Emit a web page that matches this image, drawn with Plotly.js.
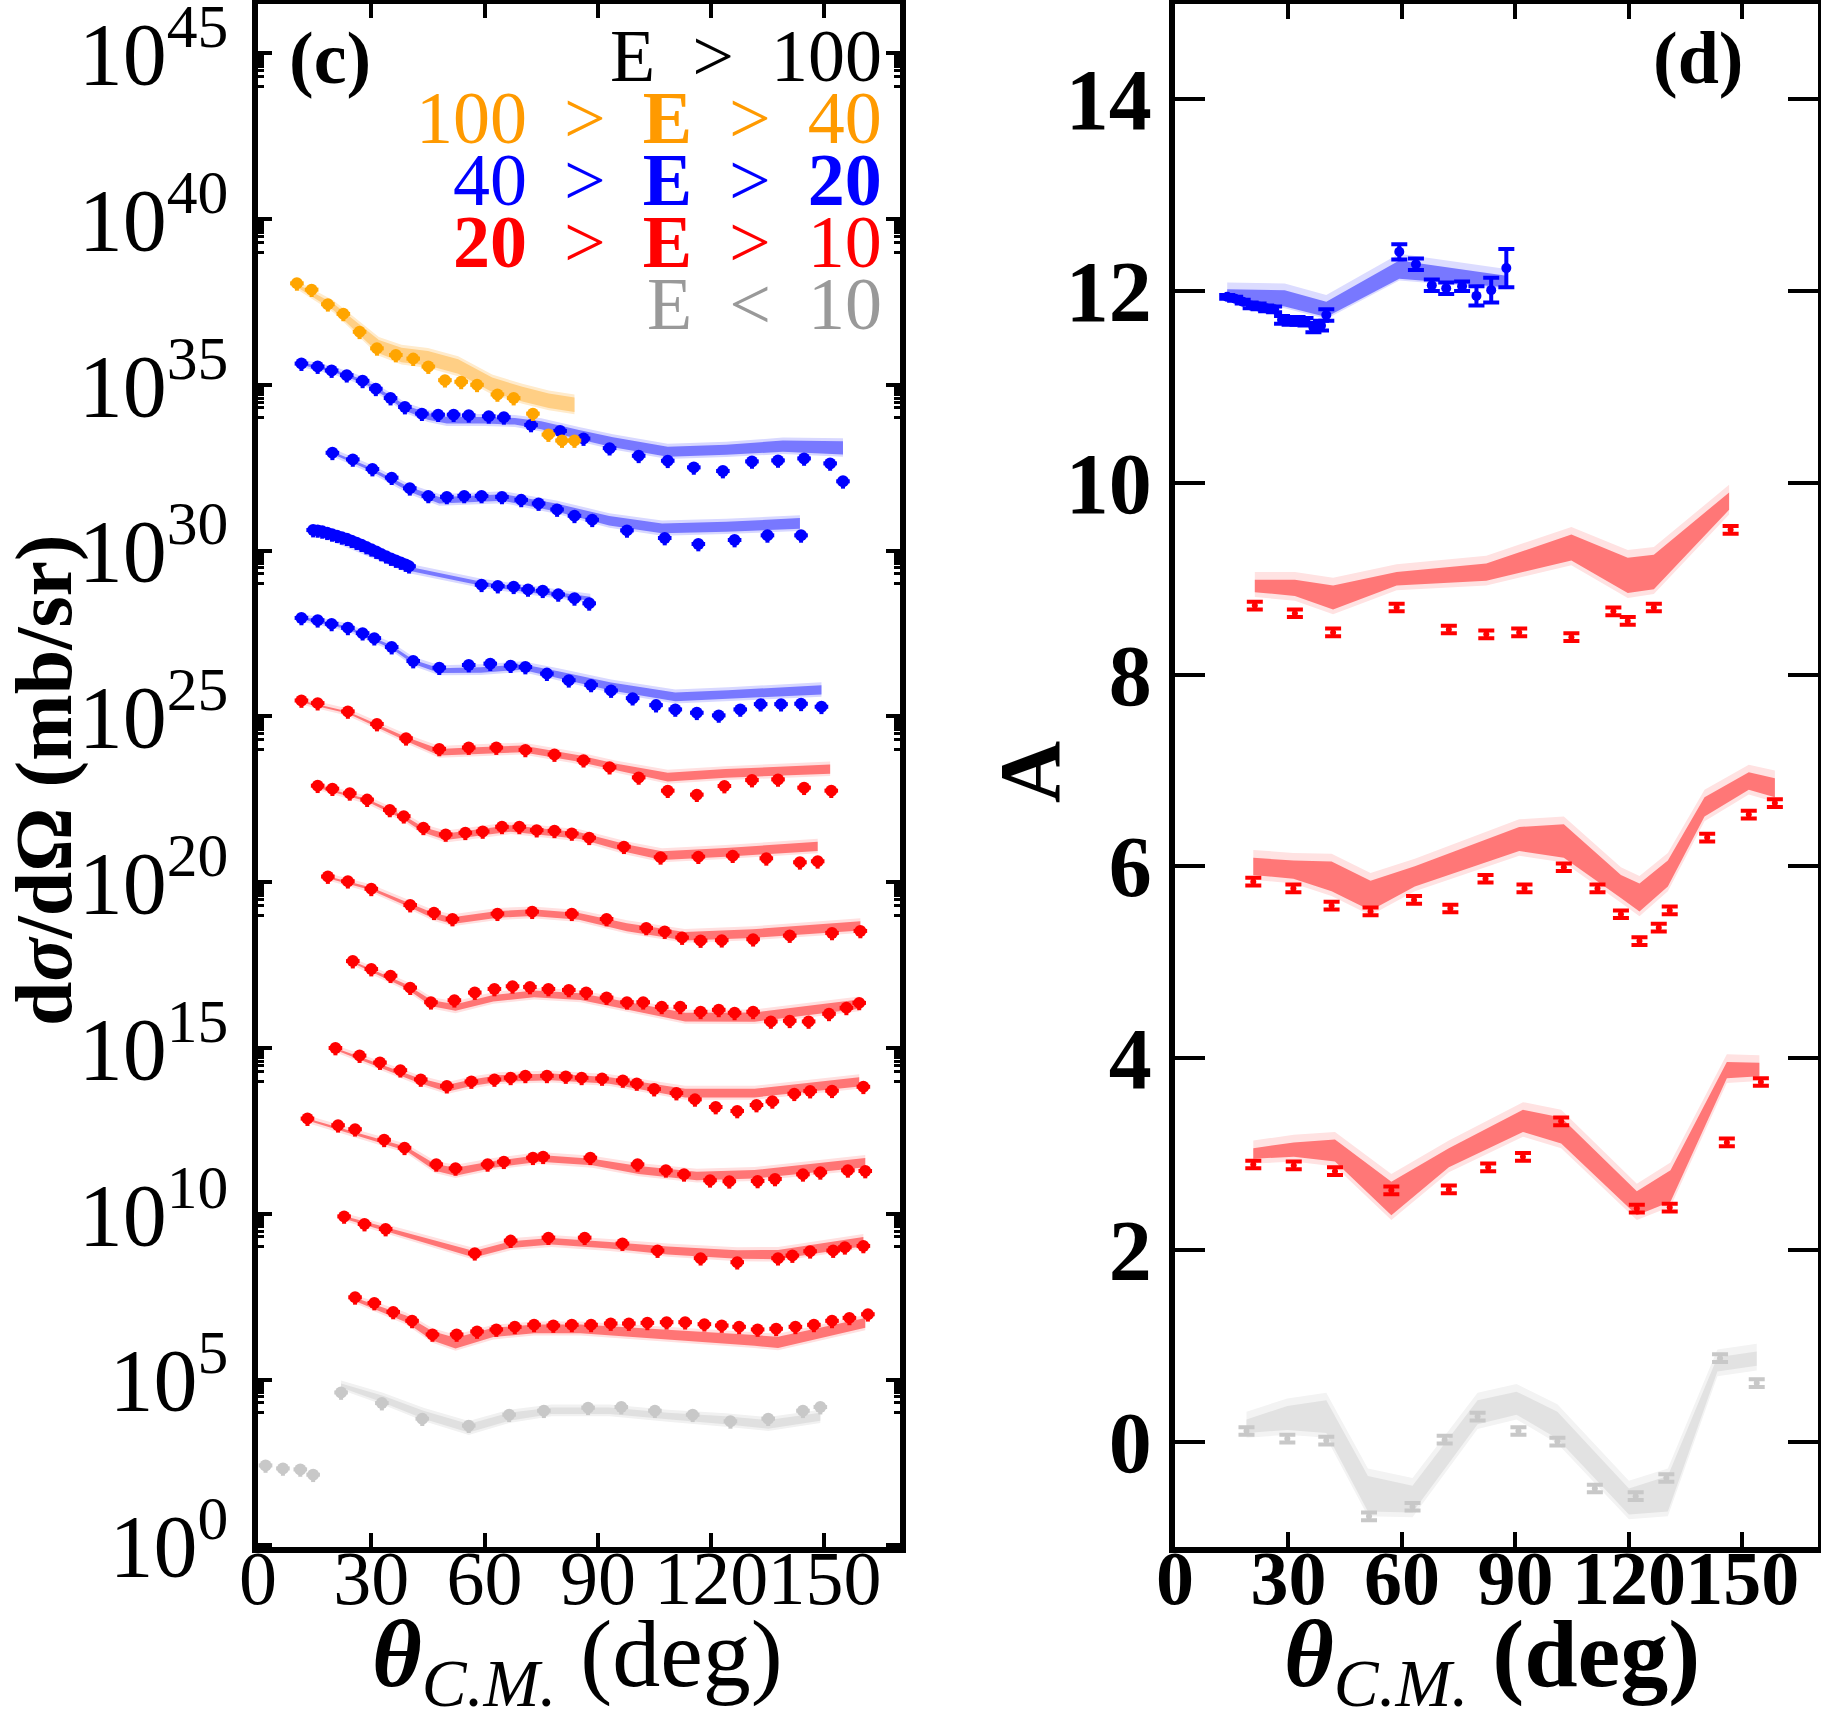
<!DOCTYPE html>
<html><head><meta charset="utf-8">
<script src="https://cdn.plot.ly/plotly-3.0.1.min.js"></script>
<style>body{margin:0;padding:0;background:#fff}</style>
</head><body><div id="plot" style="width:1821px;height:1714px"></div>
<script>
// ===== Panel (c): log10 of dσ/dΩ (offset curves), θ in deg =====
// Orange 100>E>40
const c1x=[10.3,14.2,18.5,22.6,26.9,31.5,36.5,41.1,45.1,49.5,53.8,58.0,63.4,67.7,72.8,76.9,80.5,83.8];
const c1y=[38.06,37.87,37.43,37.14,36.60,36.10,35.90,35.79,35.55,35.14,35.09,35.00,34.71,34.60,34.13,33.50,33.32,33.32];
const b1x=[10.3,20,26,32,38,45,53,62,70,77,83.8];
const b1c=[38.0,37.35,36.75,36.15,35.9,35.8,35.55,35.0,34.72,34.52,34.4];
const b1w=[0.05,0.1,0.15,0.2,0.22,0.22,0.22,0.22,0.22,0.22,0.22];
// Blue 40>E>20
const c2x=[11.5,15.8,19.5,23.5,27.7,31.2,35.1,38.9,43.4,47.7,51.8,55.8,61.1,65.1,72.3,80.0,86.2,93.1,100.8,108.5,115.4,123.1,130.8,137.7,144.6,151.5,154.9];
const c2y=[35.64,35.55,35.43,35.29,35.12,34.88,34.60,34.33,34.13,34.10,34.10,34.08,34.05,34.02,33.79,33.61,33.38,33.09,32.86,32.71,32.51,32.40,32.69,32.72,32.78,32.63,32.09];
const b2x=[11.5,20,28,35,39,45,50,60,68,75,85,94,108.5,124,139,154.9];
const b2c=[35.64,35.42,35.1,34.62,34.3,34.05,33.93,33.93,33.9,33.78,33.5,33.27,32.98,33.04,33.15,33.1];
const b2w=[0.04,0.04,0.05,0.06,0.08,0.1,0.1,0.1,0.1,0.12,0.14,0.15,0.15,0.15,0.17,0.2];
const c3x=[19.7,25.1,30.3,35.4,40.2,45.1,50.0,54.6,59.2,64.6,69.7,74.3,79.2,83.8,88.5,97.7,107.7,116.6,126.2,134.9,143.8];
const c3y=[32.95,32.75,32.46,32.20,31.88,31.65,31.62,31.65,31.65,31.62,31.53,31.42,31.24,31.05,30.93,30.61,30.38,30.20,30.32,30.46,30.46];
const b3x=[19.7,30,40,48,55,65,79,93,107,124,143.5];
const b3c=[32.95,32.45,31.85,31.52,31.55,31.6,31.3,30.9,30.67,30.72,30.82];
const b3w=[0.04,0.05,0.07,0.1,0.1,0.1,0.12,0.14,0.15,0.15,0.16];
const c4x=[14.6,15.8,17.0,18.3,19.6,20.9,22.2,23.5,24.8,26.1,27.4,28.7,30.0,31.3,32.6,33.9,35.2,36.5,37.8,39.1,40.0,59.2,63.5,67.7,71.5,75.4,79.5,83.8,87.7];
const c4y=[30.62,30.61,30.58,30.54,30.49,30.45,30.40,30.36,30.30,30.24,30.18,30.11,30.04,29.97,29.90,29.83,29.76,29.70,29.64,29.58,29.53,28.97,28.93,28.91,28.83,28.79,28.68,28.56,28.41];
const b4x=[14.6,40,59.2,88];
const b4c=[30.62,29.45,29.0,28.55];
const b4w=[0.04,0.06,0.06,0.06];
const c5x=[11.5,15.8,19.5,23.8,27.7,30.8,35.4,41.1,48.0,55.8,61.5,66.9,70.8,76.5,82.3,88.2,93.5,99.2,105.4,110.5,116.2,122.0,127.7,133.1,138.5,143.8,149.2];
const c5y=[27.97,27.90,27.79,27.67,27.51,27.36,27.09,26.67,26.47,26.55,26.59,26.53,26.49,26.29,26.09,25.95,25.78,25.55,25.34,25.21,25.11,25.03,25.21,25.37,25.37,25.38,25.29];
const b5x=[11.5,23.8,35.4,41.1,48,59,70,79.5,93.5,110.5,124.5,149.2];
const b5c=[27.97,27.67,27.09,26.65,26.38,26.4,26.49,26.26,25.9,25.59,25.66,25.8];
const b5w=[0.04,0.04,0.05,0.06,0.07,0.08,0.08,0.1,0.12,0.13,0.13,0.14];
// Red 20>E>10
const c6x=[11.5,15.8,23.8,31.5,39.2,48.0,55.8,63.1,70.8,78.5,86.2,93.1,100.8,108.5,116.2,123.5,130.8,137.7,144.6,151.8];
const c6y=[25.48,25.40,25.15,24.77,24.34,24.02,24.06,24.06,23.99,23.85,23.68,23.47,23.16,22.76,22.64,22.90,23.08,23.10,22.85,22.76];
const b6x=[11.5,23.8,39.2,48,56,70,85,94.6,108.5,123.8,151.5];
const b6c=[25.45,25.12,24.32,23.92,23.96,24.02,23.73,23.48,23.17,23.28,23.41];
const b6w=[0.03,0.03,0.06,0.1,0.1,0.1,0.1,0.1,0.13,0.13,0.14];
const c7x=[15.8,19.7,24.3,28.9,34.9,38.6,43.8,49.7,54.9,59.5,64.6,69.2,73.8,78.5,83.1,87.7,96.9,106.6,116.6,125.7,134.6,143.5,148.2];
const c7y=[22.91,22.82,22.68,22.49,22.18,21.99,21.64,21.44,21.49,21.53,21.67,21.67,21.57,21.55,21.47,21.34,21.07,20.75,20.77,20.80,20.72,20.60,20.63];
const b7x=[15.8,28.9,38.6,43.8,49.7,59.2,66.9,85.4,97.7,107,123.8,148.2];
const b7c=[22.88,22.47,21.95,21.58,21.37,21.5,21.62,21.4,21.02,20.8,20.9,21.08];
const b7w=[0.03,0.04,0.06,0.08,0.1,0.1,0.1,0.1,0.12,0.13,0.13,0.14];
const c8x=[18.5,23.8,30.0,40.3,46.6,51.5,63.4,72.6,83.1,92.3,102.8,107.7,112.3,117.2,122.8,131.1,140.8,152.0,159.5];
const c8y=[20.17,20.03,19.80,19.31,19.08,18.89,19.05,19.11,19.05,18.89,18.62,18.51,18.33,18.24,18.25,18.28,18.39,18.47,18.53];
const b8x=[18.5,30,40.3,46.6,51.5,63.4,72.6,85,97.7,113,131,159.5];
const b8c=[20.15,19.8,19.3,18.98,18.84,19.03,19.08,18.97,18.64,18.37,18.45,18.68];
const b8w=[0.03,0.04,0.06,0.08,0.1,0.1,0.1,0.1,0.12,0.13,0.13,0.14];
const c9x=[25.1,30.0,35.1,40.3,45.8,52.0,57.4,62.6,67.4,72.0,76.9,82.3,86.9,92.3,97.7,102.0,106.9,111.8,117.2,122.0,126.2,131.1,135.8,140.8,145.8,151.2,155.8,159.2];
const c9y=[17.62,17.38,17.18,16.82,16.38,16.44,16.67,16.78,16.86,16.84,16.78,16.75,16.67,16.52,16.38,16.38,16.24,16.24,16.09,16.15,16.06,16.09,15.80,15.82,15.80,16.03,16.21,16.36];
const b9x=[25.1,39.2,46,52.3,62.3,73.1,85.4,100.8,113.1,131.5,159.2];
const b9c=[17.59,16.86,16.35,16.22,16.5,16.63,16.55,16.21,15.93,15.93,16.32];
const b9w=[0.03,0.06,0.09,0.1,0.1,0.1,0.1,0.12,0.13,0.14,0.14];
const c10x=[20.5,26.9,32.3,37.7,43.1,50.0,56.5,62.6,66.9,70.8,76.5,81.5,85.7,91.1,96.6,100.3,104.9,110.8,115.7,121.2,126.9,132.0,136.2,142.0,146.2,152.0,160.3];
const c10y=[15.0,14.77,14.56,14.33,14.05,13.85,13.99,14.05,14.10,14.16,14.16,14.14,14.10,14.08,14.02,13.93,13.76,13.64,13.45,13.22,13.10,13.28,13.39,13.62,13.70,13.71,13.83];
const b10x=[20.5,42.3,50,56.5,63.8,77.7,93.1,105.4,113.1,131.5,159.2];
const b10c=[14.97,14.03,13.78,13.95,14.08,14.13,14.02,13.79,13.64,13.64,13.98];
const b10w=[0.03,0.07,0.1,0.1,0.1,0.1,0.1,0.12,0.13,0.13,0.14];
const c11x=[13.1,21.2,25.7,33.4,38.8,47.2,52.3,60.8,65.1,72.8,75.5,88.0,100.5,108.0,112.8,119.7,124.8,132.3,136.9,144.3,148.9,156.2,160.8];
const c11y=[12.87,12.67,12.55,12.23,11.99,11.49,11.37,11.49,11.57,11.69,11.72,11.69,11.49,11.31,11.19,11.01,10.98,10.99,11.05,11.19,11.25,11.31,11.29];
const b11x=[13.1,39.2,46.9,52.3,62.3,74.6,88.5,100.8,116.2,131.5,160.8];
const b11c=[12.84,11.96,11.4,11.27,11.49,11.67,11.56,11.32,11.14,11.19,11.54];
const b11w=[0.03,0.06,0.1,0.12,0.1,0.1,0.1,0.12,0.13,0.13,0.14];
const c12x=[22.8,28.2,33.8,57.4,66.9,76.9,86.5,96.5,105.8,117.2,126.9,137.7,141.5,146.2,152.3,155.4,160.3];
const c12y=[9.92,9.69,9.54,8.81,9.19,9.28,9.28,9.10,8.89,8.66,8.54,8.66,8.74,8.87,8.89,8.99,9.03];
const b12x=[22.8,39.2,57.2,66.9,77.7,93.1,108.5,126.9,137.7,160.3];
const b12c=[9.89,9.36,8.78,9.07,9.17,9.05,8.89,8.77,8.77,9.16];
const b12w=[0.04,0.07,0.1,0.1,0.1,0.1,0.12,0.13,0.14,0.14];
const c13x=[25.7,30.8,35.8,40.8,46.2,52.6,58.0,63.1,68.0,73.1,78.2,83.1,88.2,93.4,98.2,103.1,108.2,113.1,118.2,122.8,127.4,132.3,137.2,142.3,147.2,152.0,156.6,161.5];
const c13y=[7.48,7.31,7.04,6.77,6.36,6.36,6.45,6.51,6.59,6.65,6.63,6.65,6.65,6.69,6.69,6.71,6.73,6.73,6.67,6.63,6.59,6.51,6.53,6.59,6.65,6.77,6.86,6.97];
const b13x=[25.7,39.2,46.2,52.3,62.3,73.1,85.4,100.8,116.2,131.5,137.7,146.9,160.8];
const b13c=[7.42,6.83,6.32,6.1,6.42,6.53,6.53,6.42,6.3,6.18,6.12,6.36,6.71];
const b13w=[0.05,0.1,0.14,0.16,0.14,0.13,0.13,0.14,0.15,0.16,0.17,0.16,0.15];
// Gray E<10
const c14x=[22.0,32.8,43.5,55.8,66.5,75.7,87.4,96.2,105.1,115.1,125.1,135.1,144.3,148.9];
const c14y=[4.61,4.29,3.82,3.61,3.94,4.06,4.15,4.17,4.06,3.94,3.74,3.82,4.06,4.17];
const b14x=[22,33.1,43.8,55.8,66.5,77.7,93.1,108.5,123.8,135.1,148.9];
const b14c=[4.82,4.41,3.94,3.53,3.88,4.06,4.06,3.9,3.77,3.65,3.88];
const b14w=[0.06,0.1,0.12,0.13,0.12,0.1,0.1,0.1,0.12,0.13,0.12];
const c15x=[2.0,6.6,11.2,14.6];
const c15y=[2.41,2.32,2.29,2.13];

// ===== Panel (d): A =====
const dBx=[13.8,15.9,17.9,20.0,22.1,24.1,26.2,28.3,30.3,32.4,34.5,36.6,38.6,40.0,59.3,63.7,67.9,71.7,75.9,79.7,83.6,87.6];
const dBy=[11.94,11.92,11.89,11.85,11.84,11.82,11.81,11.70,11.69,11.69,11.68,11.62,11.64,11.75,12.41,12.28,12.06,12.03,12.05,11.95,12.01,12.24];
const dBe=[0.02,0.02,0.02,0.03,0.03,0.03,0.03,0.04,0.04,0.04,0.04,0.05,0.05,0.06,0.08,0.06,0.06,0.06,0.05,0.1,0.13,0.2];
const dBbx=[13.8,29,40,59.3,87.6];
const dBlo=[11.92,11.84,11.73,12.13,12.04];
const dBhi=[12.02,12.01,11.89,12.32,12.16];
const dR1x=[21.1,31.7,41.8,58.6,72.4,82.3,91.0,104.8,115.9,119.7,126.6,146.9];
const dR1y=[8.72,8.64,8.44,8.70,8.47,8.42,8.44,8.39,8.66,8.56,8.70,9.51];
const dR1bx=[21.1,31.7,41.8,58.6,82.3,104.8,119.7,126.6,146.5];
const dR1lo=[8.86,8.82,8.68,8.93,8.98,9.19,8.85,8.89,9.72];
const dR1hi=[8.99,8.99,8.93,9.07,9.16,9.46,9.22,9.25,9.90];
const dR2x=[20.7,31.3,41.4,51.7,63.2,72.8,82.1,92.4,102.8,111.7,117.9,122.8,127.9,130.8,140.7,151.7,158.6];
const dR2y=[5.84,5.77,5.59,5.53,5.65,5.56,5.87,5.77,5.99,5.77,5.50,5.22,5.36,5.54,6.30,6.54,6.66];
const dR2bx=[20.7,31.3,41.4,51.7,63.4,91.0,102.8,117.9,122.8,130.3,140.0,151.7,158.6];
const dR2lo=[5.91,5.87,5.74,5.54,5.79,6.16,6.09,5.67,5.53,5.79,6.52,6.80,6.72];
const dR2hi=[6.09,6.06,6.05,5.85,6.00,6.41,6.44,5.91,5.82,6.06,6.72,6.98,6.92];
const dR3x=[20.7,31.4,42.3,57.2,72.4,82.8,92.0,102.1,122.1,130.8,145.9,154.9];
const dR3y=[2.89,2.88,2.82,2.62,2.63,2.86,2.97,3.34,2.43,2.44,3.12,3.75];
const dR3bx=[20.7,31.4,42.3,57.2,72.4,92.0,102.1,122.1,131.0,145.9,154.5];
const dR3lo=[2.95,2.97,2.92,2.36,2.86,3.23,3.11,2.36,2.50,3.79,3.81];
const dR3hi=[3.06,3.12,3.15,2.71,3.06,3.46,3.38,2.61,2.83,3.96,3.95];
const dGx=[18.9,29.7,40.0,51.3,62.8,71.3,80.0,90.8,101.1,111.0,121.8,129.9,144.1,153.8];
const dGy=[0.11,0.03,0.01,-0.78,-0.68,0.02,0.26,0.11,0.00,-0.49,-0.57,-0.38,0.87,0.61];
const dGbx=[18.9,29.7,40.0,51.0,62.8,80.0,90.3,101.1,120.0,130.3,143.4,153.8];
const dGlo=[0.09,0.12,0.09,-0.73,-0.74,0.18,0.28,0.03,-0.76,-0.73,0.73,0.79];
const dGhi=[0.23,0.37,0.43,-0.36,-0.46,0.43,0.52,0.31,-0.49,-0.36,0.88,0.94];

const xTicks=[0,30,60,90,120,150];
const logTickExp=[0,5,10,15,20,25,30,35,40,45];
const aTicks=[0,2,4,6,8,10,12,14];

// ===== styles =====
const COL={
  orange:{pt:'#FFA500',dark:'#FFCF85',light:'#FFEBCC'},
  blue:{pt:'#0000FF',dark:'#7878FF',light:'#D8D8FF'},
  red:{pt:'#FF0000',dark:'#FF7575',light:'#FFE0E0'},
  gray:{pt:'#C8C8C8',dark:'#E0E0E0',light:'#F1F1F1'}
};
const W=1821,H=1714;
const SERIF='Liberation Serif, DejaVu Serif, serif';
const p10=v=>Math.pow(10,v);

function poly(xs,lo,hi,color,xa,ya){
  return {x:xs.concat(xs.slice().reverse()),y:hi.concat(lo.slice().reverse()),
    fill:'toself',fillcolor:color,line:{width:0},mode:'lines',hoverinfo:'skip',xaxis:xa,yaxis:ya};
}
function logBand(xs,c,w,col){
  return [
    poly(xs,c.map((v,i)=>p10(v-w[i]-0.07)),c.map((v,i)=>p10(v+w[i]+0.09)),col.light,'x','y'),
    poly(xs,c.map((v,i)=>p10(v-w[i])),c.map((v,i)=>p10(v+w[i])),col.dark,'x','y')
  ];
}
function logPts(xs,ys,col){
  return {x:xs,y:ys.map(p10),mode:'markers',type:'scatter',xaxis:'x',yaxis:'y',hoverinfo:'skip',
    marker:{color:col.pt,size:12,line:{width:0}},
    error_y:{type:'percent',value:40,color:col.pt,thickness:4,width:0},
    error_x:{type:'constant',value:1.8,color:col.pt,thickness:4,width:0}};
}
function linBand(xs,lo,hi,col,dl,dh){
  return [
    poly(xs,lo.map(v=>v-dl),hi.map(v=>v+dh),col.light,'x2','y2'),
    poly(xs,lo,hi,col.dark,'x2','y2')
  ];
}
function linPts(xs,ys,errs,col,size){
  return {x:xs,y:ys,mode:'markers',type:'scatter',xaxis:'x2',yaxis:'y2',hoverinfo:'skip',
    marker:{color:col.pt,size:size,line:{width:0}},
    error_y:{type:'data',array:errs,visible:true,color:col.pt,thickness:4,width:8}};
}

const traces=[];
const leftSets=[
  [b1x,b1c,b1w,COL.orange],[b2x,b2c,b2w,COL.blue],[b3x,b3c,b3w,COL.blue],[b4x,b4c,b4w,COL.blue],
  [b5x,b5c,b5w,COL.blue],[b6x,b6c,b6w,COL.red],[b7x,b7c,b7w,COL.red],[b8x,b8c,b8w,COL.red],
  [b9x,b9c,b9w,COL.red],[b10x,b10c,b10w,COL.red],[b11x,b11c,b11w,COL.red],[b12x,b12c,b12w,COL.red],
  [b13x,b13c,b13w,COL.red],[b14x,b14c,b14w,COL.gray]
];
leftSets.forEach(s=>traces.push(...logBand(s[0],s[1],s[2],s[3])));
const leftPts=[[c2x,c2y,COL.blue],[c3x,c3y,COL.blue],[c4x,c4y,COL.blue],[c5x,c5y,COL.blue],
  [c6x,c6y,COL.red],[c7x,c7y,COL.red],[c8x,c8y,COL.red],[c9x,c9y,COL.red],[c10x,c10y,COL.red],
  [c11x,c11y,COL.red],[c12x,c12y,COL.red],[c13x,c13y,COL.red],[c14x,c14y,COL.gray],[c15x,c15y,COL.gray],
  [c1x,c1y,COL.orange]];
leftPts.forEach(s=>traces.push(logPts(s[0],s[1],s[2])));

traces.push(...linBand(dBbx,dBlo,dBhi,{dark:'#7878FF',light:'#DCDCFF'},0.02,0.07));
traces.push(...linBand(dR1bx,dR1lo,dR1hi,{dark:'#FF7777',light:'#FFE2E2'},0.05,0.08));
traces.push(...linBand(dR2bx,dR2lo,dR2hi,{dark:'#FF7777',light:'#FFE2E2'},0.05,0.08));
traces.push(...linBand(dR3bx,dR3lo,dR3hi,{dark:'#FF7777',light:'#FFE2E2'},0.05,0.08));
traces.push(...linBand(dGbx,dGlo,dGhi,{dark:'#E2E2E2',light:'#F3F3F3'},0.05,0.08));
const cst=(arr,v)=>arr.map(()=>v);
traces.push(linPts(dBx,dBy,dBe,COL.blue,10));
traces.push(linPts(dR1x,dR1y,cst(dR1x,0.04),COL.red,6));
traces.push(linPts(dR2x,dR2y,cst(dR2x,0.04),COL.red,6));
traces.push(linPts(dR3x,dR3y,cst(dR3x,0.04),COL.red,6));
traces.push(linPts(dGx,dGy,cst(dGx,0.04),COL.gray,6));

// minor ticks: one decade below each major (as in the reference)
const minorVals=[];
logTickExp.forEach(e=>{ if(e>0){ for(let k=1;k<=9;k++) minorVals.push(k*p10(e-1)); } });

const ydom=[167/H,1710.5/H];
const axBase={showline:true,linecolor:'black',linewidth:6,mirror:'ticks',showgrid:false,zeroline:false,
  ticks:'inside',tickcolor:'black',tickwidth:4,fixedrange:true,ticklabeloverflow:'allow'};

const layout={
  width:W,height:H,margin:{l:0,r:0,t:0,b:0},showlegend:false,
  paper_bgcolor:'white',plot_bgcolor:'white',
  xaxis:Object.assign({},axBase,{domain:[258/W,900/W],range:[0,170],tickmode:'array',tickvals:xTicks,
    ticklen:14,tickangle:0,ticklabelstandoff:-40,tickfont:{family:SERIF,size:76,color:'black'},anchor:'y'}),
  yaxis:Object.assign({},axBase,{domain:ydom,type:'log',range:[-0.05,46.5],tickmode:'array',
    tickvals:logTickExp.map(p10),ticktext:logTickExp.map(e=>'10<sup>'+e+'</sup>'),
    ticklen:14,ticklabelstandoff:6,tickfont:{family:SERIF,size:88,color:'black'},anchor:'x',
    minor:{tickmode:'array',tickvals:minorVals,ticks:'inside',ticklen:6,tickwidth:3,tickcolor:'black'}}),
  xaxis2:Object.assign({},axBase,{domain:[1175/W,1818/W],range:[0,170],tickmode:'array',tickvals:xTicks,
    ticklen:15,tickangle:0,ticklabelstandoff:-40,tickfont:{family:SERIF,size:76,color:'black',weight:'bold'},anchor:'y2'}),
  yaxis2:Object.assign({},axBase,{domain:ydom,range:[-1.1,15],tickmode:'array',tickvals:aTicks,
    ticklen:30,tickfont:{family:SERIF,size:86,color:'black',weight:'bold'},anchor:'x2'}),
  annotations:[]
};
const A=(px,py,text,opt)=>Object.assign({xref:'paper',yref:'paper',x:px/W,y:1-py/H,text:text,showarrow:false,
  xanchor:'center',yanchor:'middle',font:{family:SERIF,size:72,color:'black'}},opt||{});
const ann=layout.annotations;
ann.push(A(577,1660,'<b><i>θ</i></b><i><sub>C.M.</sub></i> (deg)',{font:{family:SERIF,size:96,color:'black'}}));
ann.push(A(1492,1660,'<b><i>θ</i></b><i><sub>C.M.</sub></i> <b>(deg)</b>',{font:{family:SERIF,size:96,color:'black'}}));
ann.push(A(44,780,'<b>d<i>σ</i>/dΩ (mb/sr)</b>',{textangle:-90,font:{family:SERIF,size:80,color:'black'}}));
ann.push(A(1030,772,'<b>A</b>',{textangle:-90,font:{family:SERIF,size:86,color:'black'}}));
ann.push(A(330,58,'<b>(c)</b>',{font:{family:SERIF,size:74,color:'black'}}));
ann.push(A(1698,58,'<b>(d)</b>',{font:{family:SERIF,size:74,color:'black'}}));
const sp='\u2002';
const legendLines=[
  ['E'+sp+'>'+sp+'100','black'],
  ['100'+sp+'>'+sp+'<b>E</b>'+sp+'>'+sp+'40','#FF9A00'],
  ['40'+sp+'>'+sp+'<b>E</b>'+sp+'>'+sp+'<b>20</b>','#0000FF'],
  ['<b>20</b>'+sp+'>'+sp+'<b>E</b>'+sp+'>'+sp+'10','#FF0000'],
  ['E'+sp+'<'+sp+'10','#999999']
];
const legendY=[56,118,180,242,304];
legendLines.forEach((l,i)=>ann.push(A(884,legendY[i],l[0],{xanchor:'right',font:{family:SERIF,size:74,color:l[1]}})));

Plotly.newPlot('plot',traces,layout,{staticPlot:true,displayModeBar:false});
</script></body></html>
